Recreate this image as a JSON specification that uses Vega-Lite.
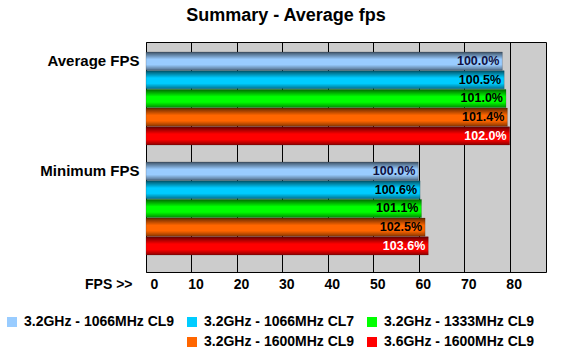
{
  "$schema": "https://vega.github.io/schema/vega-lite/v6.json",
  "width": 400,
  "height": 230,
  "autosize": "none",
  "padding": {"left": 146, "top": 42, "right": 17, "bottom": 89},
  "background": "white",
  "title": {
    "text": "Summary - Average fps",
    "fontSize": 18,
    "font": "Liberation Sans",
    "fontWeight": "bold",
    "anchor": "middle",
    "frame": "group",
    "dx": -60,
    "baseline": "alphabetic",
    "offset": 3,
    "color": "black"
  },
  "config": {
    "view": {"stroke": "black", "strokeWidth": 1, "fill": "#CCCCCC"},
    "font": "Liberation Sans"
  },
  "data": {
    "values": [
      {"metric": "Average FPS", "series": "3.2GHz - 1066MHz CL9", "fps": 78.4, "label": "100.0%"},
      {"metric": "Average FPS", "series": "3.2GHz - 1066MHz CL7", "fps": 78.8, "label": "100.5%"},
      {"metric": "Average FPS", "series": "3.2GHz - 1333MHz CL9", "fps": 79.2, "label": "101.0%"},
      {"metric": "Average FPS", "series": "3.2GHz - 1600MHz CL9", "fps": 79.5, "label": "101.4%"},
      {"metric": "Average FPS", "series": "3.6GHz - 1600MHz CL9", "fps": 80.0, "label": "102.0%"},
      {"metric": "Minimum FPS", "series": "3.2GHz - 1066MHz CL9", "fps": 59.9, "label": "100.0%"},
      {"metric": "Minimum FPS", "series": "3.2GHz - 1066MHz CL7", "fps": 60.3, "label": "100.6%"},
      {"metric": "Minimum FPS", "series": "3.2GHz - 1333MHz CL9", "fps": 60.6, "label": "101.1%"},
      {"metric": "Minimum FPS", "series": "3.2GHz - 1600MHz CL9", "fps": 61.4, "label": "102.5%"},
      {"metric": "Minimum FPS", "series": "3.6GHz - 1600MHz CL9", "fps": 62.1, "label": "103.6%"}
    ]
  },
  "encoding": {
    "y": {
      "field": "metric",
      "type": "nominal",
      "sort": ["Average FPS", "Minimum FPS"],
      "scale": {"paddingInner": 0.155, "paddingOuter": 0.123, "align": 0.37},
      "axis": {
        "title": null,
        "ticks": false,
        "domain": false,
        "labelFontSize": 15,
        "labelFontWeight": "bold",
        "labelColor": "black",
        "labelPadding": 7,
        "labelOffset": -37
      }
    },
    "yOffset": {
      "field": "series",
      "type": "nominal",
      "sort": ["3.2GHz - 1066MHz CL9", "3.2GHz - 1066MHz CL7", "3.2GHz - 1333MHz CL9", "3.2GHz - 1600MHz CL9", "3.6GHz - 1600MHz CL9"],
      "scale": {"paddingInner": 0.03, "paddingOuter": 0}
    },
    "x": {
      "field": "fps",
      "type": "quantitative",
      "scale": {"domain": [0, 88], "nice": false, "zero": true},
      "axis": {
        "values": [0, 10, 20, 30, 40, 50, 60, 70, 80],
        "grid": true,
        "gridColor": "black",
        "gridOpacity": 1,
        "gridWidth": 1,
        "ticks": false,
        "tickSize": 0,
        "domain": false,
        "labelFontSize": 14,
        "labelFontWeight": "bold",
        "labelColor": "black",
        "labelPadding": 5,
        "labelOffset": 4,
        "title": "FPS >>",
        "titleFontSize": 14,
        "titleFontWeight": "bold",
        "titleColor": "black",
        "titleX": -14,
        "titleY": 12,
        "titleAlign": "right",
        "titleBaseline": "middle",
        "titleAnchor": null
      }
    }
  },
  "layer": [
    {
      "mark": {"type": "bar"},
      "encoding": {
        "color": {
          "field": "series",
          "type": "nominal",
          "scale": {
            "domain": ["3.2GHz - 1066MHz CL9", "3.2GHz - 1066MHz CL7", "3.2GHz - 1333MHz CL9", " ", "3.2GHz - 1600MHz CL9", "3.6GHz - 1600MHz CL9"],
            "range": ["#99CCFF", "#00CCFF", "#00FF00", "rgba(0,0,0,0)", "#FF6600", "#FF0000"]
          },
          "legend": {
            "title": null,
            "orient": "none",
            "legendX": -141,
            "legendY": 273,
            "columns": 3,
            "direction": "horizontal",
            "symbolType": "square",
            "symbolSize": 100,
            "symbolStrokeWidth": 0,
            "labelFontSize": 14,
            "labelFontWeight": "bold",
            "labelColor": "black",
            "labelOffset": 5,
            "columnPadding": 10,
            "rowPadding": 6,
            "gridAlign": "all"
          }
        }
      }
    },
    {
      "mark": {
        "type": "bar",
        "stroke": "#222222",
        "strokeOpacity": 0.35,
        "strokeWidth": 0.6,
        "fill": {
          "gradient": "linear",
          "x1": 0, "y1": 0, "x2": 0, "y2": 1,
          "stops": [
            {"offset": 0, "color": "rgba(0,0,0,0.6)"},
            {"offset": 0.4, "color": "rgba(0,0,0,0)"},
            {"offset": 0.7, "color": "rgba(0,0,0,0)"},
            {"offset": 1, "color": "rgba(0,0,0,0.45)"}
          ]
        }
      },
      "encoding": {}
    },
    {
      "mark": {"type": "text", "align": "right", "baseline": "middle", "dx": -3, "fontSize": 12.5, "fontWeight": "bold"},
      "encoding": {
        "text": {"field": "label"},
        "color": {
          "condition": [
            {"test": "datum.series === '3.6GHz - 1600MHz CL9'", "value": "white"},
            {"test": "datum.series === '3.2GHz - 1066MHz CL9'", "value": "#101040"}
          ],
          "value": "black"
        }
      }
    }
  ]
}
